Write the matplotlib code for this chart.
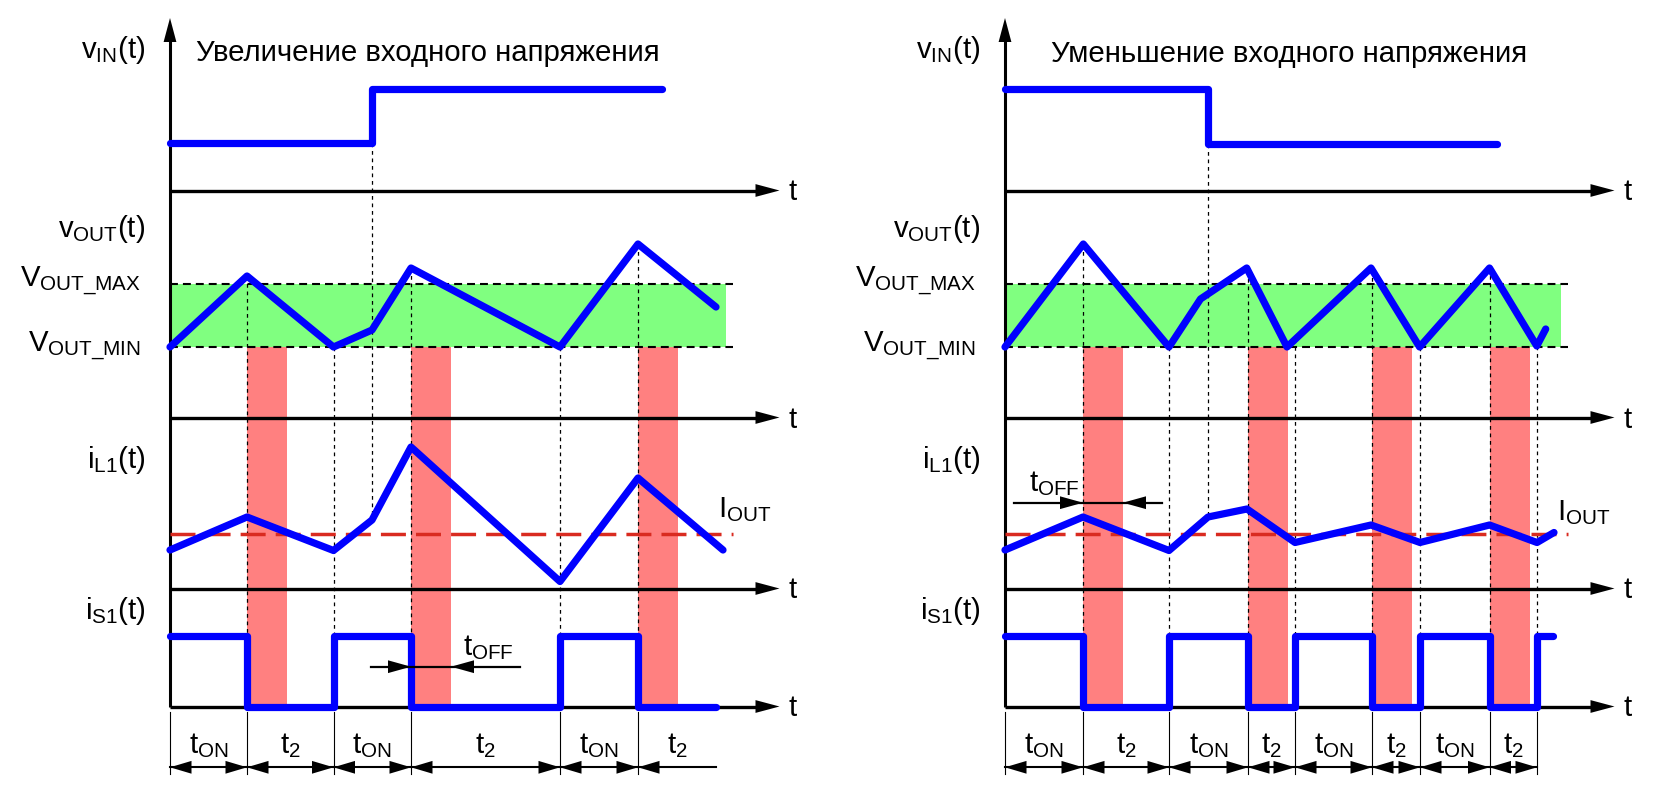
import numpy as np
import matplotlib
matplotlib.use('Agg')
import matplotlib.pyplot as plt

plt.rcParams['font.family'] = ['Liberation Sans', 'DejaVu Sans']
plt.rcParams['mathtext.fontset'] = 'custom'
plt.rcParams['mathtext.rm'] = 'Liberation Sans'
plt.rcParams['mathtext.it'] = 'Liberation Sans:italic'
plt.rcParams['mathtext.bf'] = 'Liberation Sans:bold'

# ---------------- data (time from panel origin, level above row axis) ----------------
titles = ['Увеличение входного напряжения', 'Уменьшение входного напряжения']

V_MIN = 70.5
V_MAX = 133.5
I_OUT = 54.5
IS_HIGH = 70.5
RED_WIDTH = 40

# left panel: input voltage increase
L_vin_t = [0, 202, 202, 492]
L_vin_v = [47.5, 47.5, 101.5, 101.5]
L_vout_t = [0, 77, 163.5, 202, 241, 390, 468, 546]
L_vout_v = [70.5, 141.5, 70.5, 87.5, 149.5, 70.5, 173.5, 110.5]
L_il_t = [0, 77, 163.5, 202, 241, 390, 468, 553]
L_il_v = [38.5, 71.5, 38, 68.5, 141.5, 7, 110.5, 38.5]
L_is_edges = [0, 77, 163.5, 241, 390, 468, 546]
L_is_state = [1, 0, 1, 0, 1, 0]
L_phases = ['ON', '2', 'ON', '2', 'ON', '2']
L_red_start = [77, 241, 468]
L_dotted = [77, 163.5, 241, 390, 468]
L_step_t = 202
L_toff = [241, 281]

# right panel: input voltage decrease
R_vin_t = [0, 203, 203, 492]
R_vin_v = [101.5, 101.5, 46.5, 46.5]
R_vout_t = [0, 78.3, 164, 195.5, 241.7, 282, 366, 414.6, 484.5, 531.8, 540.7]
R_vout_v = [70.5, 173.5, 70.5, 118.5, 149.5, 70.5, 149.5, 70.5, 149.5, 71.5, 88.5]
R_il_t = [0, 78, 164, 203, 242, 290, 366, 415, 484.5, 532, 549]
R_il_v = [38.5, 71.5, 38, 71.5, 79.5, 46, 63.5, 46, 63.5, 46, 56]
R_is_edges = [0, 78, 164, 243, 290, 367, 415, 484.5, 532, 547.5]
R_is_state = [1, 0, 1, 0, 1, 0, 1, 0, 1]
R_phases = ['ON', '2', 'ON', '2', 'ON', '2', 'ON', '2']
R_red_start = [78, 243, 367, 484.5]
R_dotted = [78, 164, 243, 290, 367, 415, 484.5, 532]
R_step_t = 203
R_toff = [78, 118]

# ---------------- layout ----------------
W, H = 1654, 798
ROW_Y = [190.5, 417.5, 588.5, 706.5]
PANELS = [
    dict(x0=170, title_x=196, title_base=61, vin_t=L_vin_t, vin_v=L_vin_v,
         vout_t=L_vout_t, vout_v=L_vout_v, il_t=L_il_t, il_v=L_il_v,
         is_e=L_is_edges, is_s=L_is_state, phases=L_phases, red=L_red_start,
         dotted=L_dotted, step=L_step_t, toff=L_toff, toff_ext=(40, 69),
         toff_lab=(463 - 170, 655), toff_y=666.7, dim_close_end=False,
         iout_lab=548, iout_base=516.7, title=titles[0]),
    dict(x0=1005, title_x=1051, title_base=62, vin_t=R_vin_t, vin_v=R_vin_v,
         vout_t=R_vout_t, vout_v=R_vout_v, il_t=R_il_t, il_v=R_il_v,
         is_e=R_is_edges, is_s=R_is_state, phases=R_phases, red=R_red_start,
         dotted=R_dotted, step=R_step_t, toff=R_toff, toff_ext=(69, 39),
         toff_lab=(1028.6 - 1005, 491.7), toff_y=502.7, dim_close_end=True,
         iout_lab=551.7, iout_base=520, title=titles[1]),
]
AXIS_LEN = 609.5
BAND_LEN = 556
DASH_LEN = 562.5
FS = 21.2
BLUE = '#0000FF'
GREEN = '#80FF80'
PINK = '#FF8080'
REDLINE = '#D92B20'

fig = plt.figure(figsize=(W / 100, H / 100), dpi=100)
ax = fig.add_axes([0, 0, 1, 1])
ax.set_xlim(0, W)
ax.set_ylim(H, 0)
ax.axis('off')


def head(tx, ty, direction, length=23, half=6.4, z=8):
    if direction == 'right':
        pts = [(tx, ty), (tx - length, ty - half), (tx - length, ty + half)]
    elif direction == 'left':
        pts = [(tx, ty), (tx + length, ty - half), (tx + length, ty + half)]
    else:  # up
        pts = [(tx, ty), (tx - half, ty + length), (tx + half, ty + length)]
    xs, ys = zip(*pts)
    ax.fill(xs, ys, color='black', lw=0, zorder=z)


def sig(x0, base, t, v, **kw):
    t = np.asarray(t, float)
    v = np.asarray(v, float)
    ax.plot(x0 + t, base - v, color=BLUE, lw=5.2, solid_capstyle='round',
            solid_joinstyle='round', zorder=7, **kw)


for P in PANELS:
    x0 = P['x0']
    # green band and limits
    ax.fill_between([x0, x0 + BAND_LEN], ROW_Y[1] - V_MAX, ROW_Y[1] - V_MIN,
                    color=GREEN, lw=0, zorder=1)
    for lev in (V_MIN, V_MAX):
        ax.plot([x0, x0 + DASH_LEN], [ROW_Y[1] - lev] * 2, color='black', lw=1.5,
                dashes=(3.8, 2.4), zorder=3)
    # red bands
    for s in P['red']:
        ax.fill_between([x0 + s, x0 + s + RED_WIDTH], ROW_Y[1] - V_MIN, ROW_Y[3],
                        color=PINK, lw=0, zorder=1)
    # I_OUT dashed line
    ax.plot([x0, x0 + DASH_LEN], [ROW_Y[2] - I_OUT] * 2, color=REDLINE, lw=2.5,
            dashes=(7.2, 2.9), zorder=6)
    # dotted guides
    for td in P['dotted']:
        top = ROW_Y[1] - np.interp(td, P['vout_t'], P['vout_v'])
        ax.plot([x0 + td] * 2, [top, ROW_Y[3] - IS_HIGH], color='black', lw=0.9,
                dashes=(3, 3), zorder=2)
    st = P['step']
    ax.plot([x0 + st] * 2, [ROW_Y[0] - min(P['vin_v']),
                            ROW_Y[2] - np.interp(st, P['il_t'], P['il_v'])],
            color='black', lw=0.9, dashes=(3, 3), zorder=2)
    # axes
    ax.plot([x0, x0], [ROW_Y[3], 18 + 20], color='black', lw=2.2, zorder=5,
            solid_capstyle='butt')
    head(x0, 18, 'up', length=24)
    for ry in ROW_Y:
        ax.plot([x0, x0 + AXIS_LEN - 20], [ry, ry], color='black', lw=2.4, zorder=5,
                solid_capstyle='butt')
        head(x0 + AXIS_LEN, ry, 'right', length=24)
        ax.text(x0 + AXIS_LEN + 13, ry + 10, 't', fontsize=FS, ha='center',
                va='baseline', zorder=9)
    # signals
    sig(x0, ROW_Y[0], P['vin_t'], P['vin_v'])
    sig(x0, ROW_Y[1], P['vout_t'], P['vout_v'])
    sig(x0, ROW_Y[2], P['il_t'], P['il_v'])
    ts, vs = [], []
    for i, s in enumerate(P['is_s']):
        ts += [P['is_e'][i], P['is_e'][i + 1]]
        vs += [s * IS_HIGH, s * IS_HIGH]
    sig(x0, ROW_Y[3], ts, vs)
    # tOFF arrow
    a, b = P['toff']
    ey = P['toff_y']
    ax.plot([x0 + a - P['toff_ext'][0], x0 + b + P['toff_ext'][1]], [ey, ey],
            color='black', lw=1.6, zorder=8)
    head(x0 + a, ey, 'right')
    head(x0 + b, ey, 'left')
    ax.text(x0 + P['toff_lab'][0], P['toff_lab'][1], r'$\mathrm{t_{OFF}}$',
            fontsize=FS, ha='left', va='baseline', zorder=9)
    # dimension arrows
    edges = P['is_e'][:len(P['phases']) + 1]
    dim_y = 767.3
    for i, lab in enumerate(P['phases']):
        a, b = edges[i], edges[i + 1]
        last = i == len(P['phases']) - 1
        ax.plot([x0 + a, x0 + b], [dim_y, dim_y], color='black', lw=1.5, zorder=5)
        head(x0 + a, dim_y, 'left', length=21.5)
        if not last or P['dim_close_end']:
            head(x0 + b, dim_y, 'right', length=21.5)
        ax.text(x0 + (a + b) / 2, 753, r'$\mathrm{t_{%s}}$' % lab, fontsize=FS,
                ha='center', va='baseline')
    ext = edges if P['dim_close_end'] else edges[:-1]
    for e in ext:
        ax.plot([x0 + e] * 2, [712, 774], color='black', lw=0.8, zorder=5)
    # labels
    ax.text(P['title_x'], P['title_base'], P['title'], fontsize=FS, ha='left',
            va='baseline')
    ax.text(x0 - 24.5, 58, r'$\mathrm{v_{IN}(t)}$', fontsize=FS, ha='right', va='baseline')
    ax.text(x0 - 24.5, 237, r'$\mathrm{v_{OUT}(t)}$', fontsize=FS, ha='right', va='baseline')
    ax.text(x0 - 29.5, 286.7, r'$\mathrm{V_{OUT\_MAX}}$', fontsize=FS, ha='right', va='baseline')
    ax.text(x0 - 29.5, 351.7, r'$\mathrm{V_{OUT\_MIN}}$', fontsize=FS, ha='right', va='baseline')
    ax.text(x0 - 24.5, 468, r'$\mathrm{i_{L1}(t)}$', fontsize=FS, ha='right', va='baseline')
    ax.text(x0 - 24.5, 619, r'$\mathrm{i_{S1}(t)}$', fontsize=FS, ha='right', va='baseline')
    ax.text(x0 + P['iout_lab'], P['iout_base'], r'$\mathrm{I_{OUT}}$', fontsize=FS,
            ha='left', va='baseline')

fig.savefig('out.png', dpi=100, facecolor='white')
